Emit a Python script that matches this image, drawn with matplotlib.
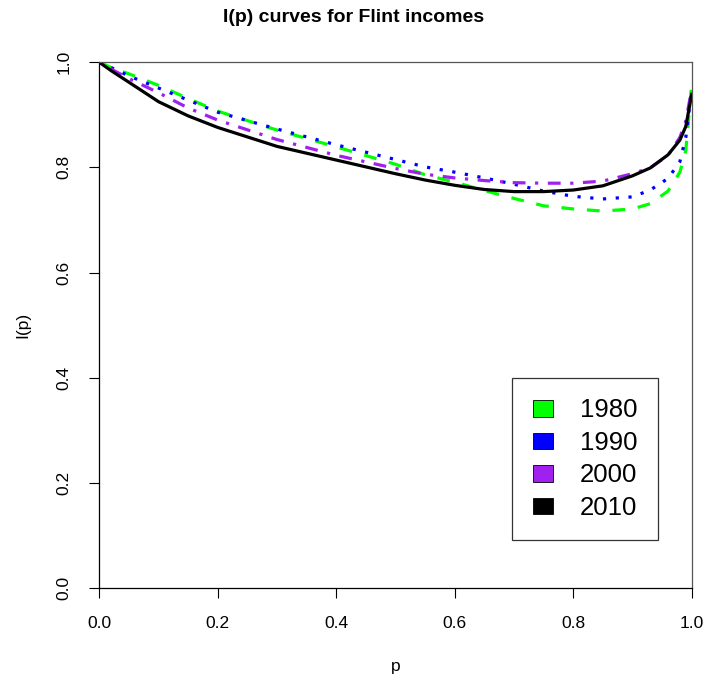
import numpy as np
import matplotlib
matplotlib.use("Agg")
import matplotlib.pyplot as plt
from matplotlib.patches import Patch

plt.rcParams['font.family'] = ['Liberation Sans', 'DejaVu Sans']

# I(p) curves
p = [0.0, 0.02, 0.05, 0.1, 0.15, 0.2, 0.3, 0.4, 0.5, 0.55, 0.6, 0.65, 0.7,
     0.75, 0.8, 0.85, 0.9, 0.93, 0.96, 0.98, 0.99, 1.0]

ip_1980 = [1.0, 0.990, 0.978, 0.956, 0.931, 0.907, 0.871, 0.839, 0.806, 0.786,
           0.772, 0.756, 0.741, 0.727, 0.721, 0.717, 0.721, 0.731, 0.755, 0.791,
           0.832, 0.960]
ip_1990 = [1.0, 0.990, 0.974, 0.951, 0.928, 0.905, 0.873, 0.843, 0.815, 0.801,
           0.791, 0.780, 0.768, 0.755, 0.745, 0.740, 0.744, 0.757, 0.779, 0.811,
           0.857, 0.949]
ip_2000 = [1.0, 0.987, 0.969, 0.942, 0.913, 0.890, 0.853, 0.823, 0.798, 0.787,
           0.780, 0.775, 0.771, 0.770, 0.770, 0.774, 0.788, 0.799, 0.823, 0.857,
           0.888, 0.949]
ip_2010 = [1.0, 0.984, 0.962, 0.925, 0.898, 0.876, 0.840, 0.814, 0.788, 0.776,
           0.766, 0.758, 0.754, 0.754, 0.757, 0.765, 0.784, 0.799, 0.824, 0.852,
           0.878, 0.939]

years = ["1980", "1990", "2000", "2010"]
colors = ["#00FF00", "#0000FF", "#A020F0", "#000000"]
styles = [(0, (4, 4)), (0, (1, 3)), (0, (1, 3, 4, 3)), "solid"]


def main():
    fig = plt.figure(figsize=(7.07, 6.77), dpi=100)
    ax = fig.add_axes([0.1405, 0.1315, 0.8379, 0.7765])

    for vals, col, ls in zip((ip_1980, ip_1990, ip_2000, ip_2010), colors, styles):
        ax.plot(p, vals, color=col, linestyle=ls, linewidth=2.3)

    ax.set_xlim(0, 1)
    ax.set_ylim(0, 1)
    ax.set_xticks(np.arange(0, 1.01, 0.2))
    ax.set_yticks(np.arange(0, 1.01, 0.2))
    ax.set_xticklabels(["%.1f" % v for v in np.arange(0, 1.01, 0.2)])
    ax.set_yticklabels(["%.1f" % v for v in np.arange(0, 1.01, 0.2)],
                       rotation=90, va="center")
    ax.tick_params(direction="out", length=7.5, width=0.8, labelsize=12.5, pad=12.5)

    for side in ("left", "bottom"):
        ax.spines[side].set_color("black")
        ax.spines[side].set_linewidth(0.9)
    for side in ("top", "right"):
        ax.spines[side].set_color("#555555")
        ax.spines[side].set_linewidth(0.9)

    ax.set_xlabel("p", fontsize=12.5)
    ax.set_ylabel("I(p)", fontsize=12.5)
    ax.xaxis.set_label_coords(0.5, -0.135)
    ax.yaxis.set_label_coords(-0.116, 0.5)

    fig.text(0.5, 1 - 18 / 677, "I(p) curves for Flint incomes",
             ha="center", va="center", fontsize=14, fontweight="bold")

    handles = [Patch(facecolor=c, edgecolor="black", linewidth=0.6) for c in colors]
    leg = ax.legend(handles, years, loc="center", bbox_to_anchor=(0.82, 0.245),
                    fontsize=18.5, frameon=True, fancybox=False, shadow=False,
                    handlelength=0.78, handleheight=0.62, handletextpad=1.05,
                    borderpad=0.8, labelspacing=0.33, borderaxespad=0)
    leg.get_frame().set_edgecolor("black")
    leg.get_frame().set_linewidth(0.9)

    fig.savefig("out.png", dpi=100)


if __name__ == "__main__":
    main()
